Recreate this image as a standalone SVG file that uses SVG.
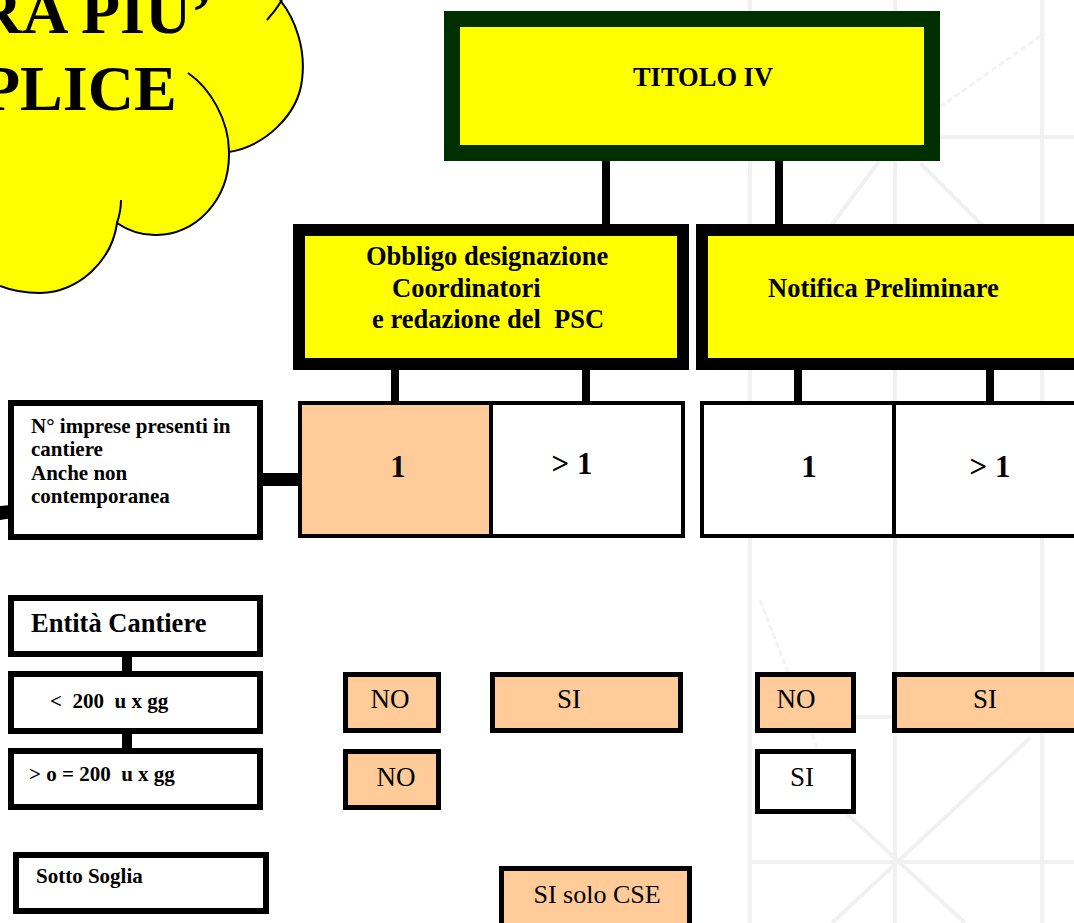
<svg xmlns="http://www.w3.org/2000/svg" width="1074" height="923" viewBox="0 0 1074 923">
<style>
  .bg { stroke: #f1f1f1; stroke-width: 4; fill: none; }
  .bgd { stroke: #f3f3f3; stroke-width: 3; fill: none; stroke-dasharray: 6 3; }
  .b { font-family: "Liberation Serif", "Times New Roman", serif; font-weight: bold; fill: #000; }
  .r { font-family: "Liberation Serif", "Times New Roman", serif; font-weight: normal; fill: #000; }
  .big { font-size: 26.5px; }
  .small { font-size: 21px; }
  .num { font-size: 31px; }
  .opt { font-size: 27px; }
  .yel { fill: #FFFF00; }
  .peach { fill: #FFCC99; stroke: #000; stroke-width: 5; }
  .white { fill: #FFFFFF; stroke: #000; stroke-width: 5; }
  .lbox { fill: #FFFFFF; stroke: #000; stroke-width: 6; }
  .cell { stroke: #000; stroke-width: 4; }
  .conn { fill: #000; }
</style>
<rect x="0" y="0" width="1074" height="923" fill="#FFFFFF"/>
<g id="background">
  <line class="bg" x1="750" y1="0" x2="750" y2="923"/>
  <line class="bg" x1="895" y1="0" x2="895" y2="923"/>
  <line class="bg" x1="1042" y1="0" x2="1042" y2="923"/>
  <line class="bg" x1="750" y1="862" x2="1074" y2="862"/>
  <line class="bg" x1="940" y1="137" x2="1074" y2="137"/>
  <line class="bg" x1="855" y1="717" x2="895" y2="717"/>
  <line class="bg" x1="845" y1="812" x2="965" y2="923"/>
  <line class="bg" x1="832" y1="923" x2="1030" y2="738"/>
  <line class="bg" x1="828" y1="230" x2="880" y2="160"/>
  <line class="bg" x1="920" y1="163" x2="987" y2="230"/>
  <line class="bgd" x1="940" y1="107" x2="1045" y2="33"/>
  <line class="bgd" x1="760" y1="600" x2="817" y2="747"/>
</g>
<g id="cloud">
  <path d="M0,0 L280,0 C296,20 306,50 302,80 C298,115 265,146 229,152 C230,200 195,236 155,235 C140,235 127,230 117,223 C112,260 80,292 40,293 C25,293 10,290 0,286 Z" fill="#FFFF00" stroke="none"/>
  <path d="M280,0 C296,20 306,50 302,80 C298,115 265,146 229,152 C230,200 195,236 155,235 C140,235 127,230 117,223 C112,260 80,292 40,293 C25,293 10,290 0,286" fill="none" stroke="#000" stroke-width="2"/>
  <path d="M188,73 C210,88 229,120 229,152" fill="none" stroke="#000" stroke-width="2"/>
  <path d="M121,200 C121,210 119,217 117,223" fill="none" stroke="#000" stroke-width="2"/>
  <path d="M267,20 Q276,10 282,0" fill="none" stroke="#000" stroke-width="2"/>
  <text class="b" x="-24" y="33" font-size="64">RA PIU’</text>
  <text class="b" x="-19" y="110" font-size="64">PLICE</text>
</g>
<g id="connectors">
  <rect class="conn" x="602" y="150" width="8" height="76"/>
  <rect class="conn" x="775" y="150" width="8" height="76"/>
  <rect class="conn" x="391" y="364" width="8" height="39"/>
  <rect class="conn" x="582" y="364" width="8" height="39"/>
  <rect class="conn" x="794" y="364" width="8" height="39"/>
  <rect class="conn" x="986" y="364" width="8" height="39"/>
  <rect class="conn" x="262" y="473" width="37" height="13"/>
  <polygon class="conn" points="0,506 22,504 35,502 26,516 0,520"/>
  <rect class="conn" x="122" y="655" width="10" height="18"/>
  <rect class="conn" x="122" y="732" width="10" height="18"/>
</g>
<g id="titolo">
  <rect x="452" y="19" width="480" height="134" class="yel" stroke="#003000" stroke-width="16"/>
  <text class="b big" x="703" y="86" text-anchor="middle">TITOLO IV</text>
</g>
<g id="obbligo">
  <rect x="299" y="230" width="384" height="134" class="yel" stroke="#000" stroke-width="12"/>
  <text class="b big" x="366" y="265">Obbligo designazione</text>
  <text class="b big" x="392" y="297">Coordinatori</text>
  <text class="b big" x="372" y="328" xml:space="preserve">e redazione del  PSC</text>
</g>
<g id="notifica">
  <rect x="702" y="230" width="390" height="134" class="yel" stroke="#000" stroke-width="12"/>
  <text class="b big" x="768" y="297">Notifica Preliminare</text>
</g>
<g id="cells-left">
  <rect x="300" y="403" width="191" height="133" fill="#FFCC99" class="cell"/>
  <rect x="491" y="403" width="192" height="133" fill="#FFFFFF" class="cell"/>
  <text class="b num" x="398" y="477" text-anchor="middle">1</text>
  <text class="b num" x="572" y="474" text-anchor="middle">&gt; 1</text>
</g>
<g id="cells-right">
  <rect x="702" y="403" width="192" height="133" fill="#FFFFFF" class="cell"/>
  <rect x="894" y="403" width="194" height="133" fill="#FFFFFF" class="cell"/>
  <text class="b num" x="809" y="477" text-anchor="middle">1</text>
  <text class="b num" x="990" y="477" text-anchor="middle">&gt; 1</text>
</g>
<g id="imprese">
  <rect x="11" y="403" width="249" height="134" class="lbox"/>
  <text class="b small" x="31" y="433">N° imprese presenti in</text>
  <text class="b small" x="31" y="456">cantiere</text>
  <text class="b small" x="31" y="480">Anche non</text>
  <text class="b small" x="31" y="503">contemporanea</text>
</g>
<g id="entita">
  <rect x="11" y="598" width="249" height="56" class="lbox"/>
  <text class="b big" x="31" y="632">Entità Cantiere</text>
</g>
<g id="meno200">
  <rect x="11" y="674" width="249" height="57" class="lbox"/>
  <text class="b small" x="50" y="708" xml:space="preserve">&lt;  200  u x gg</text>
</g>
<g id="piu200">
  <rect x="11" y="751" width="249" height="56" class="lbox"/>
  <text class="b small" x="29" y="781" xml:space="preserve">&gt; o = 200  u x gg</text>
</g>
<g id="sottosoglia">
  <rect x="16" y="855" width="250" height="56" class="lbox"/>
  <text class="b small" x="36" y="883">Sotto Soglia</text>
</g>
<g id="no1">
  <rect x="345.5" y="674.5" width="93" height="56" class="peach"/>
  <text class="r opt" x="390" y="708" text-anchor="middle">NO</text>
</g>
<g id="si1">
  <rect x="492.5" y="674.5" width="188" height="56" class="peach"/>
  <text class="r opt" x="569" y="708" text-anchor="middle">SI</text>
</g>
<g id="no2">
  <rect x="345.5" y="751.5" width="93" height="56" class="peach"/>
  <text class="r opt" x="396" y="786" text-anchor="middle">NO</text>
</g>
<g id="sisolocse">
  <rect x="501.5" y="868.5" width="188" height="70" class="peach"/>
  <text class="r" font-size="26" x="597" y="903" text-anchor="middle">SI solo CSE</text>
</g>
<g id="no3">
  <rect x="757.5" y="674.5" width="96" height="56" class="peach"/>
  <text class="r opt" x="796" y="708" text-anchor="middle">NO</text>
</g>
<g id="si3">
  <rect x="894.5" y="674.5" width="200" height="56" class="peach"/>
  <text class="r opt" x="985" y="708" text-anchor="middle">SI</text>
</g>
<g id="si4">
  <rect x="757.5" y="751.5" width="96" height="60" class="white"/>
  <text class="r opt" x="802" y="786" text-anchor="middle">SI</text>
</g>
</svg>
